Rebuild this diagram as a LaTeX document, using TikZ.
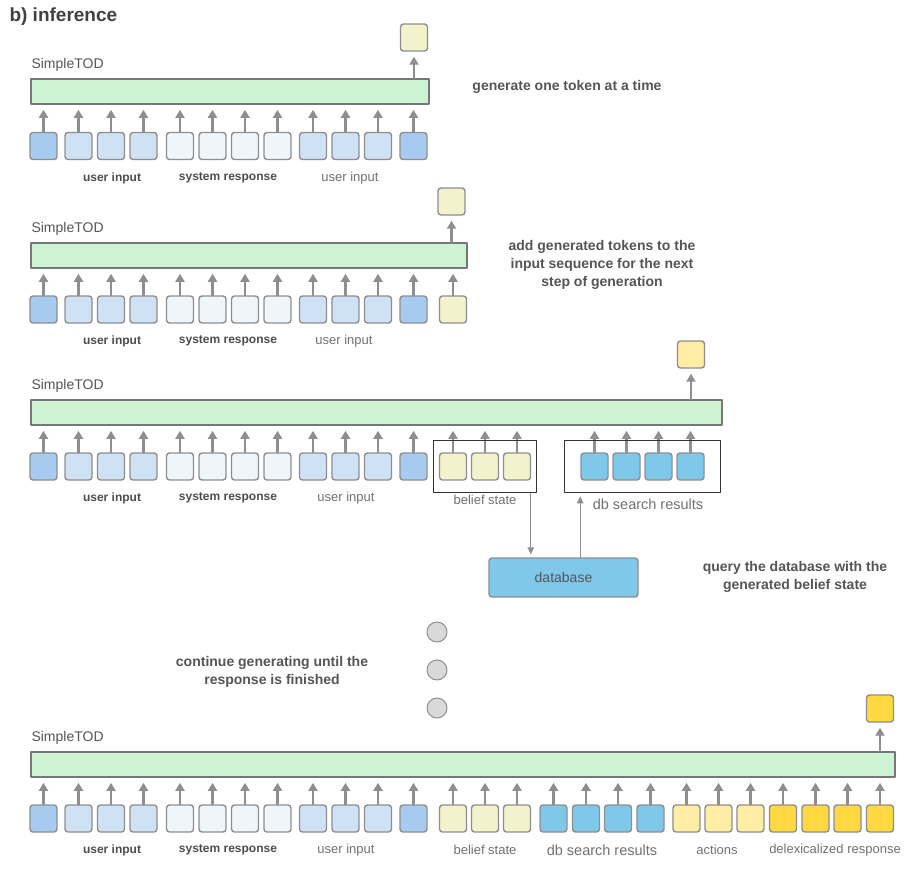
\documentclass[tikz,border=0pt]{standalone}
\usepackage{fontspec}
\setmainfont{Liberation Sans}
\usetikzlibrary{fit,arrows.meta}

\definecolor{edgegray}{HTML}{8E8E8E}
\definecolor{bargray}{HTML}{777777}
\definecolor{txtgray}{HTML}{555555}
\definecolor{lightgray}{HTML}{707070}
\definecolor{modelgreen}{HTML}{CCF3D4}
\definecolor{udark}{HTML}{A7CBF0}
\definecolor{ulight}{HTML}{CFE1F5}
\definecolor{syscol}{HTML}{F0F5FA}
\definecolor{beliefcol}{HTML}{F2F2CC}
\definecolor{dbcol}{HTML}{80C8EA}
\definecolor{actcol}{HTML}{FFEDA6}
\definecolor{delexcol}{HTML}{FFD93F}
\definecolor{dotcol}{HTML}{D9D9D9}

\tikzset{
  tok/.style={draw=edgegray, line width=1.4pt, rounded corners=3pt, minimum size=27pt, inner sep=0pt},
  modelbar/.style={draw=bargray, line width=1.6pt, fill=modelgreen, minimum height=25pt, inner sep=0pt, anchor=west},
  up/.style={draw=edgegray, line width=2.3pt, -{Triangle[length=8pt,width=9pt]}, shorten >=5pt},
  thinarr/.style={draw=edgegray, line width=1.2pt, -{Triangle[length=7pt,width=6.5pt]}, shorten >=3pt},
  frame/.style={draw=black!80, line width=1.2pt, inner ysep=12pt},
  modelname/.style={anchor=west, text=txtgray, font=\fontsize{14}{16}\selectfont},
  boldlbl/.style={text=black!70, font=\bfseries\fontsize{12}{14}\selectfont},
  lbl/.style={text=lightgray, font=\fontsize{13}{15}\selectfont},
  note/.style={text=txtgray, align=center, font=\bfseries\fontsize{14}{18}\selectfont},
  dot/.style={circle, draw=edgegray, line width=1pt, fill=dotcol, minimum size=20pt, inner sep=0pt}
}

% dialogue context shared by every row
\def\ctxtoks{43.5/udark, 78.5/ulight, 111/ulight, 143.5/ulight, 180/syscol, 212.5/syscol, 245/syscol, 277.5/syscol, 313/ulight, 345.5/ulight, 378/ulight, 413.5/udark}

\begin{document}
\begin{tikzpicture}[line cap=round, line join=round, x=1pt, y=-1pt]
  \useasboundingbox (0,0) rectangle (920,869);

  \node[anchor=west, text=black!75, font=\bfseries\fontsize{19}{21}\selectfont] (title) at (6,17) {b) inference};

  % row 1
  \node[modelname] (name1) at (28,65) {SimpleTOD};
  \node[modelbar, minimum width=398pt] (bar1) at (30,91.5) {};
  \foreach \x/\c [count=\i] in \ctxtoks
    \node[tok, fill=\c] (a\i) at (\x,146) {};
  \foreach \i in {1,...,12}
    \draw[up] (a\i.north) -- (a\i.north |- bar1.south);
  \node[tok, fill=beliefcol] (out1) at (414,37.5) {};
  \draw[up] (bar1.north -| out1.south) -- (out1.south);
  \node[boldlbl] (ua1) at (112,178) {user input};
  \node[boldlbl] (sa1) at (228,178) {system response};
  \node[lbl] (ub1) at (350,178) {user input};
  \node[note] (n1) at (567,87) {generate one token at a time};

  % row 2
  \node[modelname] (name2) at (28,229) {SimpleTOD};
  \node[modelbar, minimum width=436pt] (bar2) at (30,255.5) {};
  \foreach \x/\c [count=\i] in \ctxtoks
    \node[tok, fill=\c] (b\i) at (\x,309.5) {};
  \node[tok, fill=beliefcol] (b13) at (453,309.5) {};
  \foreach \i in {1,...,13}
    \draw[up] (b\i.north) -- (b\i.north |- bar2.south);
  \node[tok, fill=beliefcol] (out2) at (451.5,201.5) {};
  \draw[up] (bar2.north -| out2.south) -- (out2.south);
  \node[boldlbl] (ua2) at (112,341) {user input};
  \node[boldlbl] (sa2) at (228,341) {system response};
  \node[lbl] (ub2) at (344,341) {user input};
  \node[note] (n2) at (602,264.5) {add generated tokens to the\\input sequence for the next\\step of generation};

  % row 3
  \node[modelname] (name3) at (28,386) {SimpleTOD};
  \node[modelbar, minimum width=691pt] (bar3) at (30,412.5) {};
  \foreach \x/\c [count=\i] in \ctxtoks
    \node[tok, fill=\c] (c\i) at (\x,466.5) {};
  \foreach \x/\c [count=\i from 13] in {453/beliefcol, 485/beliefcol, 517/beliefcol, 594.5/dbcol, 626.5/dbcol, 658.5/dbcol, 690.5/dbcol}
    \node[tok, fill=\c] (c\i) at (\x,466.5) {};
  \foreach \i in {1,...,19}
    \draw[up] (c\i.north) -- (c\i.north |- bar3.south);
  \node[tok, fill=actcol] (out3) at (691,354.5) {};
  \draw[up] (bar3.north -| out3.south) -- (out3.south);
  \node[frame, inner xsep=5pt, fit=(c13)(c15)] (bsbox) {};
  \node[frame, inner xsep=15.5pt, fit=(c16)(c19)] (dbbox) {};
  \node[boldlbl] (ua3) at (112,498) {user input};
  \node[boldlbl] (sa3) at (228,498) {system response};
  \node[lbl] (ub3) at (346,498) {user input};
  \node[lbl] (bs3) at (485,500) {belief state};
  \node[lbl, font=\fontsize{14.5}{16}\selectfont] (dr3) at (648,504) {db search results};

  % database lookup
  \node[draw=edgegray, line width=1.4pt, fill=dbcol, rounded corners=3pt, minimum width=149pt, minimum height=39pt, text=txtgray, font=\fontsize{14}{16}\selectfont] (db) at (563.5,577.5) {database};
  \draw[thinarr] ([xshift=-6pt]bsbox.south east) -- ([xshift=-6pt]bsbox.south east |- db.north);
  \draw[thinarr] ([xshift=16pt]dbbox.south west |- db.north) -- ([xshift=16pt]dbbox.south west);
  \node[note] (n3) at (795,577) {query the database with the\\generated belief state};

  % ...
  \node[dot] (d1) at (437,632) {};
  \node[dot] (d2) at (437,670) {};
  \node[dot] (d3) at (437,708) {};
  \node[note] (n4) at (272,671.5) {continue generating until the\\response is finished};

  % row 4
  \node[modelname] (name4) at (28,738) {SimpleTOD};
  \node[modelbar, minimum width=864pt] (bar4) at (30,764.5) {};
  \foreach \x/\c [count=\i] in \ctxtoks
    \node[tok, fill=\c] (e\i) at (\x,818.5) {};
  \foreach \x/\c [count=\i from 13] in {453/beliefcol, 485/beliefcol, 517/beliefcol, 553.5/dbcol, 586/dbcol, 618/dbcol, 650.5/dbcol, 686.5/actcol, 718.5/actcol, 750.5/actcol, 783/delexcol, 815.5/delexcol, 847.5/delexcol, 880/delexcol}
    \node[tok, fill=\c] (e\i) at (\x,818.5) {};
  \foreach \i in {1,...,26}
    \draw[up] (e\i.north) -- (e\i.north |- bar4.south);
  \node[tok, fill=delexcol] (out4) at (880,708.5) {};
  \draw[up] (bar4.north -| out4.south) -- (out4.south);
  \node[boldlbl] (ua4) at (112,850) {user input};
  \node[boldlbl] (sa4) at (228,850) {system response};
  \node[lbl] (ub4) at (346,850) {user input};
  \node[lbl] (bs4) at (485,850) {belief state};
  \node[lbl, font=\fontsize{14.5}{16}\selectfont] (dr4) at (602,850) {db search results};
  \node[lbl] (ac4) at (717,850) {actions};
  \node[lbl] (dl4) at (835,850) {delexicalized response};

\end{tikzpicture}
\end{document}
